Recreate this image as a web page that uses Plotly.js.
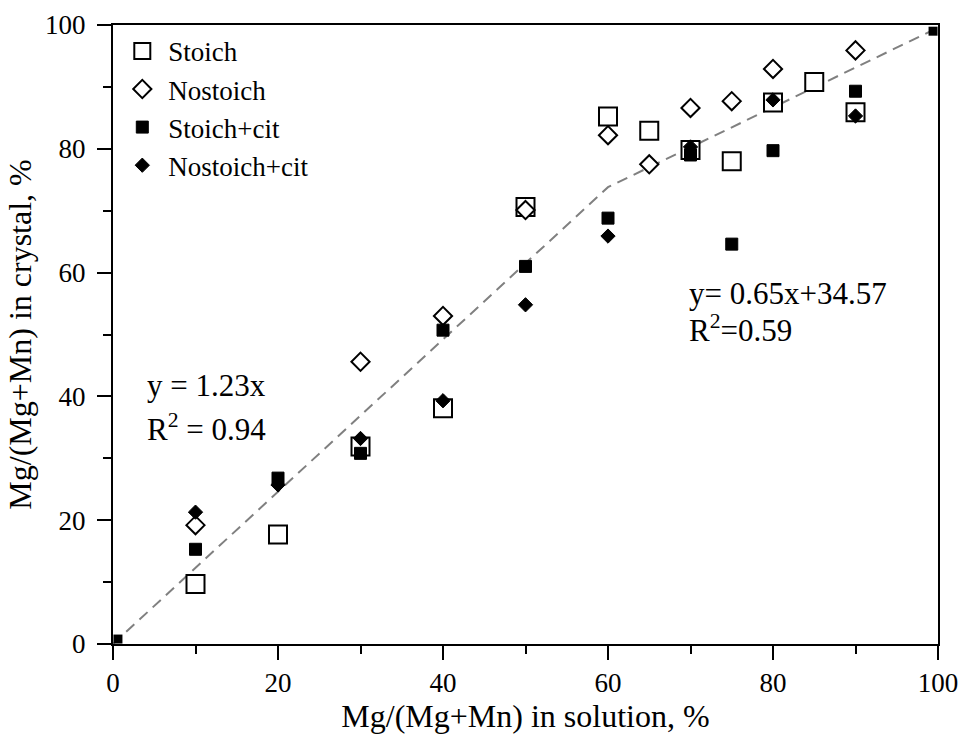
<!DOCTYPE html>
<html>
<head>
<meta charset="utf-8">
<script src="https://cdn.plot.ly/plotly-3.0.1.min.js"></script>
<style>
  html, body { margin: 0; padding: 0; background: #fff; }
  #chart { width: 961px; height: 735px; }
</style>
</head>
<body>
<div id="chart"></div>
<script>
// Mg fraction in solution (%) for each series
const stoichX     = [10, 20, 30, 40, 50, 60, 65, 70, 75, 80, 85, 90];
const stoichY     = [9.7, 17.7, 31.9, 38.1, 70.6, 85.2, 82.9, 79.8, 78.0, 87.5, 90.8, 85.9];

const nostoichX   = [10, 30, 40, 50, 60, 65, 70, 75, 80, 90];
const nostoichY   = [19.2, 45.6, 53.0, 70.1, 82.2, 77.5, 86.6, 87.7, 92.9, 95.9];

const stoichCitX  = [10, 20, 30, 40, 50, 60, 70, 75, 80, 90];
const stoichCitY  = [15.3, 26.8, 30.8, 50.7, 61.0, 68.8, 79.0, 64.6, 79.7, 89.3];

const nostoichCitX = [10, 20, 30, 40, 50, 60, 70, 80, 90];
const nostoichCitY = [21.3, 25.7, 33.2, 39.3, 54.8, 65.9, 80.3, 87.9, 85.3];

// Piecewise fit: y = 1.23x up to 60, then y = 0.65x + 34.57
const fitX = [0, 60, 100];
const fitY = [0, 73.8, 99.57];

// Fit end markers
const endX = [0.6, 99.4];
const endY = [0.8, 99.0];

const serif = "Liberation Serif, Times New Roman, serif";

const traces = [
  {
    x: fitX, y: fitY, type: "scatter", mode: "lines",
    line: { color: "#808080", width: 2, dash: "11px,7px" },
    showlegend: false, hoverinfo: "skip"
  },
  {
    x: endX, y: endY, type: "scatter", mode: "markers",
    marker: { symbol: "square", size: 9, color: "#000" },
    showlegend: false, cliponaxis: false, hoverinfo: "skip"
  },
  {
    name: "Stoich", x: stoichX, y: stoichY, type: "scatter", mode: "markers",
    legendgroup: "a",
    marker: { symbol: "square", size: 18, color: "#fff", line: { color: "#000", width: 2 } }
  },
  {
    name: "Nostoich", x: nostoichX, y: nostoichY, type: "scatter", mode: "markers",
    legendgroup: "b",
    marker: { symbol: "diamond", size: 14, color: "#fff", line: { color: "#000", width: 2 } }
  },
  {
    name: "Stoich+cit", x: stoichCitX, y: stoichCitY, type: "scatter", mode: "markers",
    legendgroup: "c",
    marker: { symbol: "square", size: 12, color: "#000", line: { color: "#000", width: 1 } }
  },
  {
    name: "Nostoich+cit", x: nostoichCitX, y: nostoichCitY, type: "scatter", mode: "markers",
    legendgroup: "d",
    marker: { symbol: "diamond", size: 11, color: "#000", line: { color: "#000", width: 1 } }
  }
];

const axisCommon = {
  range: [0, 100],
  dtick: 20,
  showgrid: false,
  zeroline: false,
  showline: true,
  linecolor: "#000",
  linewidth: 2,
  mirror: true,
  ticks: "outside",
  ticklen: 14,
  tickwidth: 2,
  tickcolor: "#000",
  minor: { dtick: 10, ticks: "outside", ticklen: 8, tickwidth: 2, tickcolor: "#000" },
  tickfont: { family: serif, size: 27, color: "#000" },
  fixedrange: true
};

const layout = {
  width: 961,
  height: 735,
  margin: { l: 113, r: 23, t: 25, b: 91 },
  paper_bgcolor: "#fff",
  plot_bgcolor: "#fff",
  font: { family: serif, color: "#000" },
  xaxis: Object.assign({}, axisCommon, {
    title: { text: "Mg/(Mg+Mn) in solution, %", font: { family: serif, size: 32, color: "#000" }, standoff: 2 }
  }),
  yaxis: Object.assign({}, axisCommon, {
    ticklabelstandoff: 6,
    title: { text: "Mg/(Mg+Mn) in crystal, %", font: { family: serif, size: 32, color: "#000" }, standoff: 4 }
  }),
  legend: {
    x: 0.004, y: 0.997, xanchor: "left", yanchor: "top",
    bgcolor: "rgba(0,0,0,0)",
    font: { family: serif, size: 27, color: "#000" },
    itemwidth: 42,
    traceorder: "grouped",
    tracegroupgap: 0
  },
  annotations: [
    { x: 3.9, y: 41.7, xref: "x", yref: "y", xanchor: "left", yanchor: "middle", showarrow: false,
      text: "y = 1.23x", font: { family: serif, size: 31, color: "#000" } },
    { x: 3.9, y: 34.9, xref: "x", yref: "y", xanchor: "left", yanchor: "middle", showarrow: false,
      text: "R<sup>2</sup> = 0.94", font: { family: serif, size: 31, color: "#000" } },
    { x: 69.6, y: 56.7, xref: "x", yref: "y", xanchor: "left", yanchor: "middle", showarrow: false,
      text: "y= 0.65x+34.57", font: { family: serif, size: 31, color: "#000" } },
    { x: 69.6, y: 50.9, xref: "x", yref: "y", xanchor: "left", yanchor: "middle", showarrow: false,
      text: "R<sup>2</sup>=0.59", font: { family: serif, size: 31, color: "#000" } }
  ]
};

Plotly.newPlot("chart", traces, layout, { displayModeBar: false, staticPlot: true });
</script>
</body>
</html>
